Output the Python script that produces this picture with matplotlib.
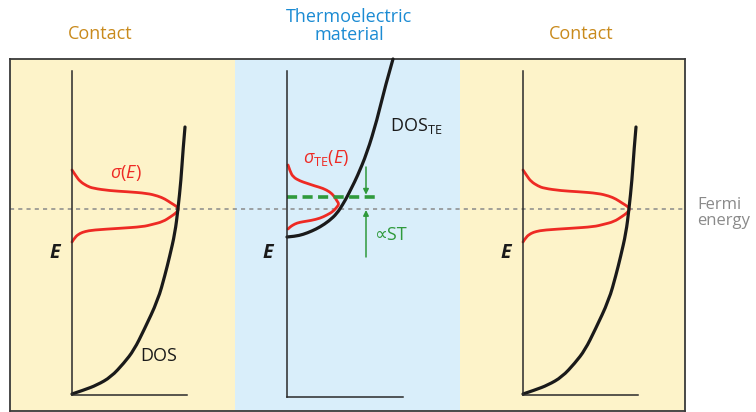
import matplotlib.pyplot as plt
from matplotlib.path import Path
from matplotlib.patches import PathPatch

plt.rcParams['font.family'] = ['Open Sans', 'DejaVu Sans']
plt.rcParams['mathtext.fontset'] = 'custom'
plt.rcParams['mathtext.rm'] = 'Open Sans'
plt.rcParams['mathtext.it'] = 'Open Sans:italic'
plt.rcParams['mathtext.bf'] = 'Open Sans:bold'

# energies measured from the Fermi level, DOS / sigma in arbitrary units
fermi_energy = 0.0

# contacts (metal): DOS and sigma(E)
contact_dos = [0.00, 0.12, 0.25, 0.39, 0.52, 0.62, 0.72, 0.86, 0.93, 0.975,
               1.03, 1.06, 1.09, 1.11, 1.13]
contact_energy = [-1.85, -1.81, -1.76, -1.68, -1.54, -1.41, -1.21, -0.91, -0.66,
                  -0.48, -0.24, 0.00, 0.29, 0.59, 0.82]
contact_sigma = [0.00, 0.04, 0.08, 0.15, 0.21, 0.38, 0.55, 0.75, 0.86, 0.93, 0.99,
                 1.04, 1.07, 1.04, 0.99, 0.91, 0.80, 0.71, 0.48, 0.21, 0.13, 0.08,
                 0.03, 0.00]
contact_sigma_energy = [0.39, 0.33, 0.275, 0.23, 0.207, 0.183, 0.173, 0.157, 0.13,
                        0.10, 0.06, 0.03, 0.00, -0.04, -0.075, -0.127, -0.155,
                        -0.177, -0.193, -0.21, -0.225, -0.243, -0.28, -0.33]

# thermoelectric material: DOS_TE and sigma_TE(E)
te_dos = [0.00, 0.08, 0.16, 0.25, 0.33, 0.42, 0.50, 0.56, 0.60, 0.65, 0.70,
          0.80, 0.90, 0.98, 1.06]
te_energy = [-0.28, -0.273, -0.255, -0.22, -0.18, -0.12, -0.045, 0.05, 0.12,
             0.22, 0.32, 0.56, 0.89, 1.22, 1.50]
te_sigma = [0.01, 0.03, 0.06, 0.13, 0.20, 0.28, 0.36, 0.43, 0.47, 0.50, 0.52,
            0.50, 0.46, 0.40, 0.33, 0.24, 0.16, 0.10, 0.06, 0.03, 0.01]
te_sigma_energy = [0.44, 0.38, 0.32, 0.28, 0.257, 0.23, 0.207, 0.17, 0.13, 0.08,
                   0.05, 0.02, -0.025, -0.06, -0.093, -0.115, -0.127, -0.14,
                   -0.16, -0.18, -0.20]
transport_energy = 0.123
shift_arrow_top = 0.42
shift_arrow_bottom = -0.48

panel_titles = ['Contact', 'Thermoelectric\nmaterial', 'Contact']

YELLOW = '#fdf3c9'
BLUE = '#d9eefa'
ORANGE = '#c98a1c'
TITLE_BLUE = '#1b8bd3'
RED = '#ee2a24'
GREEN = '#2f9a3c'
GREY = '#8a8a8a'
INK = '#1a1a1a'

W, H = 756, 412


def px_box(x0, y0, x1, y1):
    return [x0 / W, 1 - y1 / H, (x1 - x0) / W, (y1 - y0) / H]


def to_energy(y):
    return (209 - y) / 100


def smooth_curve(ax, xs, ys, **kw):
    # quadratic B-spline through the sampled points, drawn as a bezier path
    pts = list(zip(xs, ys))
    verts = [pts[0]]
    codes = [Path.MOVETO]
    for i in range(1, len(pts) - 1):
        end = pts[-1] if i == len(pts) - 2 else (
            (pts[i][0] + pts[i + 1][0]) / 2, (pts[i][1] + pts[i + 1][1]) / 2)
        verts += [pts[i], end]
        codes += [Path.CURVE3, Path.CURVE3]
    patch = PathPatch(Path(verts, codes), fill=False, capstyle='round',
                      joinstyle='round', clip_on=False, **kw)
    ax.add_patch(patch)


fig = plt.figure(figsize=(W / 100, H / 100), dpi=100)

# background box with the three coloured regions
bg = fig.add_axes(px_box(10, 59, 685, 411))
bg.set_xlim(0, 3)
bg.set_ylim(to_energy(411), to_energy(59))
for i, c in enumerate([YELLOW, BLUE, YELLOW]):
    bg.axvspan(i, i + 1, color=c, lw=0)
bg.axhline(fermi_energy, color=GREY, lw=1.1, dashes=(2.7, 2.7), zorder=1)
bg.set_xticks([])
bg.set_yticks([])
for s in bg.spines.values():
    s.set_color('#3a3a3a')
    s.set_linewidth(1.3)


def panel(x0, y0, x1, y1):
    ax = fig.add_axes(px_box(x0, y0, x1, y1))
    ax.patch.set_alpha(0)
    ax.set_xlim(0, (x1 - x0) / 100)
    ax.set_ylim(to_energy(y1), to_energy(y0))
    for side in ['top', 'right']:
        ax.spines[side].set_visible(False)
    for side in ['left', 'bottom']:
        ax.spines[side].set_color('#2a2a2a')
        ax.spines[side].set_linewidth(1.1)
    ax.set_xticks([])
    ax.set_yticks([])
    return ax


ax_l = panel(72, 71, 187, 395)
ax_m = panel(287, 71, 403, 397)
ax_r = panel(523, 71, 638, 395)

for ax in [ax_l, ax_r]:
    smooth_curve(ax, contact_sigma, contact_sigma_energy, color=RED, lw=2.0)
    smooth_curve(ax, contact_dos, contact_energy, color=INK, lw=2.3)
    ax.text(-0.17, -0.44, 'E', fontsize=14, fontweight='bold', style='italic',
            ha='center', va='center', color=INK)

ax_l.text(0.54, 0.36, r'$\sigma(E)$', color=RED, fontsize=13,
          ha='center', va='center')
ax_l.text(0.87, -1.47, 'DOS', color=INK, fontsize=13, ha='center', va='center')

# thermoelectric panel
smooth_curve(ax_m, te_sigma, te_sigma_energy, color=RED, lw=2.0)
smooth_curve(ax_m, te_dos, te_energy, color=INK, lw=2.3)
ax_m.plot([0, 0.93], [transport_energy, transport_energy], color=GREEN, lw=2.6,
          dashes=(2.8, 1.5), clip_on=False)
ax_m.text(-0.19, -0.44, 'E', fontsize=14, fontweight='bold', style='italic',
          ha='center', va='center', color=INK)
ax_m.text(0.39, 0.51, r'$\sigma_{\mathrm{TE}}(E)$', color=RED, fontsize=13,
          ha='center', va='center')
ax_m.text(1.03, 0.83, r'DOS$_{\mathrm{TE}}$', color=INK, fontsize=13,
          ha='left', va='center')
ax_m.text(0.87, -0.26, '∝ST', color=GREEN, fontsize=13, ha='left', va='center')

arrow = dict(arrowstyle='-|>', color=GREEN, lw=1.1, mutation_scale=8,
             shrinkA=0, shrinkB=0)
ax_m.annotate('', xy=(0.79, transport_energy + 0.02), xytext=(0.79, shift_arrow_top),
              arrowprops=arrow, annotation_clip=False)
ax_m.annotate('', xy=(0.79, fermi_energy - 0.01), xytext=(0.79, shift_arrow_bottom),
              arrowprops=arrow, annotation_clip=False)

# headings above the box
title_x = [100, 349, 581]
title_c = [ORANGE, TITLE_BLUE, ORANGE]
title_y = [34, 26, 34]
for t, x, y, c in zip(panel_titles, title_x, title_y, title_c):
    fig.text(x / W, 1 - y / H, t, color=c, fontsize=13, ha='center', va='center',
             linespacing=1.0)

fig.text(697 / W, 1 - 213 / H, 'Fermi\nenergy', color=GREY, fontsize=12,
         ha='left', va='center', linespacing=1.05)

fig.savefig('out.png', dpi=100)
